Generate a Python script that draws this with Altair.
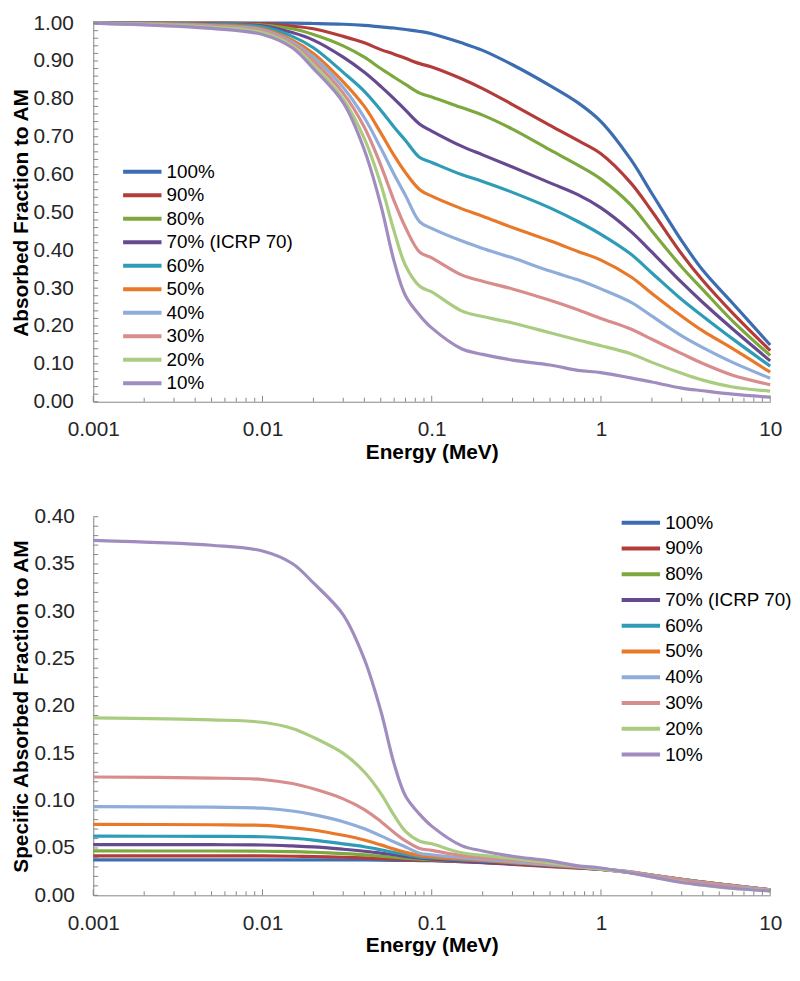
import altair as alt
import pandas as pd

# ---------------- data ----------------
energy = [0.001, 0.005, 0.01, 0.015, 0.02, 0.03, 0.04, 0.05, 0.06, 0.07, 0.085,
          0.1, 0.15, 0.2, 0.3, 0.5, 0.73, 1, 1.5, 2, 3, 4, 6, 10]

series = ["100%", "90%", "80%", "70% (ICRP 70)", "60%", "50%", "40%", "30%", "20%", "10%"]
colors = ["#3C6DB0", "#B33C3A", "#7CA83D", "#67498F", "#2E9CB7",
          "#E8792A", "#8FADDA", "#D98C8C", "#AACC80", "#A08CBF"]

# Absorbed fraction to AM (top panel)
af_100 = [1.0, 1.0, 1.0, 1.0, 0.999, 0.997, 0.994, 0.99, 0.987, 0.983, 0.978, 0.972, 0.948, 0.928, 0.89, 0.835, 0.79, 0.74, 0.64, 0.55, 0.425, 0.347, 0.26, 0.15]
af_90 = [1.0, 1.0, 0.998, 0.992, 0.985, 0.965, 0.948, 0.93, 0.918, 0.907, 0.893, 0.884, 0.853, 0.827, 0.785, 0.73, 0.69, 0.655, 0.578, 0.503, 0.39, 0.32, 0.234, 0.135]
af_80 = [1.0, 0.999, 0.995, 0.985, 0.97, 0.94, 0.91, 0.88, 0.857, 0.838, 0.815, 0.805, 0.777, 0.757, 0.72, 0.665, 0.625, 0.588, 0.52, 0.451, 0.356, 0.296, 0.213, 0.122]
af_70 = [1.0, 0.998, 0.993, 0.975, 0.955, 0.91, 0.87, 0.833, 0.8, 0.77, 0.733, 0.715, 0.675, 0.652, 0.62, 0.578, 0.547, 0.512, 0.45, 0.395, 0.315, 0.262, 0.192, 0.108]
af_60 = [1.0, 0.997, 0.99, 0.965, 0.935, 0.87, 0.82, 0.77, 0.725, 0.69, 0.645, 0.632, 0.6, 0.582, 0.553, 0.512, 0.476, 0.442, 0.39, 0.34, 0.27, 0.226, 0.166, 0.094]
af_50 = [1.0, 0.995, 0.985, 0.955, 0.92, 0.845, 0.78, 0.71, 0.65, 0.605, 0.56, 0.543, 0.51, 0.49, 0.46, 0.425, 0.397, 0.374, 0.33, 0.286, 0.226, 0.187, 0.14, 0.078]
af_40 = [1.0, 0.993, 0.982, 0.95, 0.91, 0.83, 0.75, 0.67, 0.6, 0.545, 0.475, 0.458, 0.425, 0.405, 0.38, 0.345, 0.322, 0.298, 0.263, 0.226, 0.174, 0.143, 0.104, 0.062]
af_30 = [1.0, 0.991, 0.979, 0.945, 0.9, 0.815, 0.725, 0.625, 0.53, 0.46, 0.395, 0.38, 0.335, 0.318, 0.298, 0.268, 0.243, 0.22, 0.192, 0.165, 0.127, 0.101, 0.07, 0.045]
af_20 = [1.0, 0.989, 0.975, 0.94, 0.89, 0.8, 0.695, 0.575, 0.45, 0.36, 0.305, 0.29, 0.24, 0.225, 0.208, 0.182, 0.163, 0.148, 0.127, 0.104, 0.075, 0.057, 0.039, 0.028]
af_10 = [1.0, 0.986, 0.97, 0.935, 0.88, 0.79, 0.665, 0.52, 0.37, 0.28, 0.228, 0.195, 0.14, 0.125, 0.11, 0.097, 0.083, 0.077, 0.063, 0.052, 0.036, 0.029, 0.02, 0.012]

# Specific absorbed fraction to AM (bottom panel)
saf_100 = [0.0375, 0.0375, 0.0375, 0.0375, 0.0375, 0.0374, 0.0373, 0.0371, 0.0370, 0.0369, 0.0367, 0.0365, 0.0356, 0.0348, 0.0334, 0.0313, 0.0296, 0.0278, 0.0240, 0.0206, 0.0159, 0.0130, 0.0098, 0.0056]
saf_90 = [0.0417, 0.0417, 0.0416, 0.0413, 0.0410, 0.0402, 0.0395, 0.0388, 0.0383, 0.0378, 0.0372, 0.0368, 0.0355, 0.0345, 0.0327, 0.0304, 0.0288, 0.0273, 0.0241, 0.0210, 0.0163, 0.0133, 0.0098, 0.0056]
saf_80 = [0.0469, 0.0468, 0.0466, 0.0462, 0.0455, 0.0441, 0.0427, 0.0413, 0.0402, 0.0393, 0.0382, 0.0377, 0.0364, 0.0355, 0.0338, 0.0312, 0.0293, 0.0276, 0.0244, 0.0211, 0.0167, 0.0139, 0.0100, 0.0057]
saf_70 = [0.0536, 0.0535, 0.0532, 0.0522, 0.0512, 0.0487, 0.0466, 0.0446, 0.0429, 0.0412, 0.0393, 0.0383, 0.0362, 0.0349, 0.0332, 0.0310, 0.0293, 0.0274, 0.0241, 0.0212, 0.0169, 0.0140, 0.0103, 0.0058]
saf_60 = [0.0625, 0.0623, 0.0619, 0.0603, 0.0584, 0.0544, 0.0513, 0.0481, 0.0453, 0.0431, 0.0403, 0.0395, 0.0375, 0.0364, 0.0346, 0.0320, 0.0298, 0.0276, 0.0244, 0.0213, 0.0169, 0.0141, 0.0104, 0.0059]
saf_50 = [0.0750, 0.0746, 0.0739, 0.0716, 0.0690, 0.0634, 0.0585, 0.0533, 0.0488, 0.0454, 0.0420, 0.0407, 0.0383, 0.0368, 0.0345, 0.0319, 0.0298, 0.0281, 0.0248, 0.0215, 0.0170, 0.0140, 0.0105, 0.0059]
saf_40 = [0.0938, 0.0931, 0.0921, 0.0891, 0.0853, 0.0778, 0.0703, 0.0628, 0.0563, 0.0511, 0.0445, 0.0429, 0.0398, 0.0380, 0.0356, 0.0323, 0.0302, 0.0279, 0.0247, 0.0212, 0.0163, 0.0134, 0.0098, 0.0058]
saf_30 = [0.1250, 0.1239, 0.1224, 0.1181, 0.1125, 0.1019, 0.0906, 0.0781, 0.0663, 0.0575, 0.0494, 0.0475, 0.0419, 0.0398, 0.0373, 0.0335, 0.0304, 0.0275, 0.0240, 0.0206, 0.0159, 0.0126, 0.0088, 0.0056]
saf_20 = [0.1875, 0.1854, 0.1828, 0.1763, 0.1669, 0.1500, 0.1303, 0.1078, 0.0844, 0.0675, 0.0572, 0.0544, 0.0450, 0.0422, 0.0390, 0.0341, 0.0306, 0.0278, 0.0238, 0.0195, 0.0141, 0.0107, 0.0073, 0.0053]
saf_10 = [0.3750, 0.3698, 0.3638, 0.3506, 0.3300, 0.2963, 0.2494, 0.1950, 0.1388, 0.1050, 0.0855, 0.0731, 0.0525, 0.0469, 0.0413, 0.0364, 0.0311, 0.0289, 0.0236, 0.0195, 0.0135, 0.0109, 0.0075, 0.0045]

af_all = [af_100, af_90, af_80, af_70, af_60, af_50, af_40, af_30, af_20, af_10]
saf_all = [saf_100, saf_90, saf_80, saf_70, saf_60, saf_50, saf_40, saf_30, saf_20, saf_10]

x_labels = [0.001, 0.01, 0.1, 1, 10]

FONT = "Liberation Sans"
AXIS_GRAY = "#868686"
PW = 683   # plot width
PH = 382   # plot height


def long_df(values_list):
    rows = []
    for name, vals in zip(series, values_list):
        for e, v in zip(energy, vals):
            rows.append({"E": e, "v": v, "s": name})
    return pd.DataFrame(rows)


def panel(values_list, ytitle, ymax, ymajor, yminor,
          leg_x, leg_y, row_pad, title_pad, label_pad):
    xs = alt.Scale(type="log", domain=[0.001, 10], nice=False)
    ys = alt.Scale(domain=[0, ymax], nice=False, zero=True)
    x_axis = alt.Axis(title="Energy (MeV)", values=x_labels, format="~g",
                      labelFlush=False, labelPadding=17, titlePadding=2)
    y_axis = alt.Axis(title=ytitle, values=ymajor, format=".2f",
                      labelPadding=label_pad, titlePadding=title_pad)

    lines = alt.Chart(long_df(values_list)).mark_line(
        strokeWidth=3.2, interpolate="catmull-rom"
    ).encode(
        x=alt.X("E:Q", scale=xs, axis=x_axis),
        y=alt.Y("v:Q", scale=ys, axis=y_axis),
        color=alt.Color("s:N", sort=series,
                        scale=alt.Scale(domain=series, range=colors),
                        legend=alt.Legend(title=None, orient="none",
                                          legendX=leg_x, legendY=leg_y,
                                          rowPadding=row_pad)),
    )

    major_x = pd.DataFrame({"E": x_labels})
    minor_x = pd.DataFrame({"E": [m * 10.0 ** k for k in range(-3, 1) for m in range(2, 10)]})
    xt_major = alt.Chart(major_x).mark_rule(color=AXIS_GRAY, strokeWidth=1).encode(
        x=alt.X("E:Q", scale=xs, axis=x_axis), y=alt.value(PH), y2=alt.value(PH - 6))
    xt_minor = alt.Chart(minor_x).mark_rule(color=AXIS_GRAY, strokeWidth=1).encode(
        x=alt.X("E:Q", scale=xs, axis=x_axis), y=alt.value(PH), y2=alt.value(PH - 4))

    ticks_y = pd.DataFrame({"v": yminor})
    yt = alt.Chart(ticks_y).mark_rule(color=AXIS_GRAY, strokeWidth=1).encode(
        y=alt.Y("v:Q", scale=ys, axis=y_axis), x=alt.value(0), x2=alt.value(5))

    return alt.layer(lines, xt_major, xt_minor, yt).properties(width=PW, height=PH)


top = panel(af_all, "Absorbed Fraction to AM", 1.0,
            [round(i * 0.1, 2) for i in range(11)],
            [round(i * 0.02, 2) for i in range(51)],
            28, 140, 3.7, 1, 20)

bottom = panel(saf_all, "Specific Absorbed Fraction to AM", 0.4,
               [round(i * 0.05, 2) for i in range(9)],
               [round(i * 0.01, 2) for i in range(41)],
               531, -4, 6, 2, 19)

chart = alt.vconcat(top, bottom, spacing=44).resolve_scale(
    color="independent"
).resolve_legend(
    color="independent"
).properties(
    padding={"left": 3, "top": 0, "right": 0, "bottom": 0},
    background="white",
).configure_view(
    stroke=None
).configure_axis(
    domainColor=AXIS_GRAY, domainWidth=1, ticks=False, grid=False,
    labelFont=FONT, labelFontSize=21, labelColor="#262626",
    titleFont=FONT, titleFontSize=21, titleFontWeight="bold", titleColor="#000000",
).configure_legend(
    symbolType="stroke", symbolStrokeWidth=4, symbolSize=1500, clipHeight=20,
    labelFont=FONT, labelFontSize=19, labelColor="#000000", labelOffset=3,
    padding=0, offset=0,
)

chart.save("out.html", embed_options={"renderer": "svg", "actions": False})
